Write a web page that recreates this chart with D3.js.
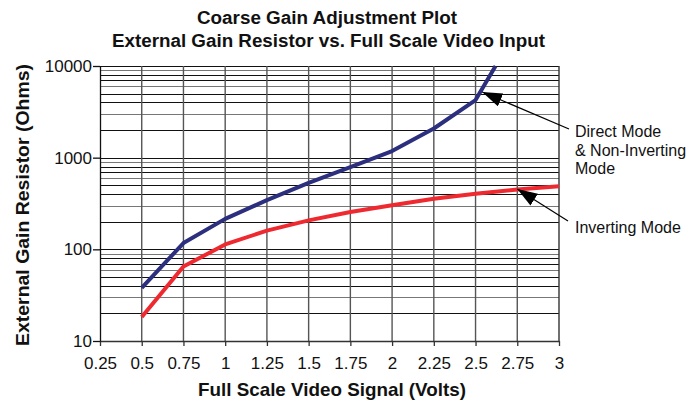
<!DOCTYPE html>
<html><head><meta charset="utf-8">
<script src="https://cdn.jsdelivr.net/npm/d3@7"></script>
<style>
body{margin:0;background:#fff;}
svg{display:block;}
text{font-family:"Liberation Sans",Arial,sans-serif;fill:#111;}
</style></head>
<body>
<svg id="chart" width="697" height="402"></svg>
<script>
// ---- data ----
const xTicks = [0.25,0.5,0.75,1,1.25,1.5,1.75,2,2.25,2.5,2.75,3];
const yTicks = [10,100,1000,10000];
const directX = [0.5,0.75,1,1.25,1.5,1.75,2,2.25,2.5,2.62];
const directY = [38,117,215,344,530,790,1180,2080,4250,10000];
const invertX = [0.5,0.75,1,1.25,1.5,1.75,2,2.25,2.5,2.75,3];
const invertY = [18.3,65,113,160,207,255,303,356,405,450,488];
const titleLines = ["Coarse Gain Adjustment Plot","External Gain Resistor vs. Full Scale Video Input"];
const xLabel = "Full Scale Video Signal (Volts)";
const yLabel = "External Gain Resistor (Ohms)";
const annotations = [
  {lines:["Direct Mode","& Non-Inverting","Mode"], tipX:2.54, tipY:5200},
  {lines:["Inverting Mode"], tipX:2.75, tipY:455}
];

const svg = d3.select("#chart");
const L=100, R=559, T=66, B=341;
const x = d3.scaleLinear().domain([0.25,3]).range([L,R]);
const y = d3.scaleLog().domain([10,10000]).range([B,T]);

// horizontal grid (log minor lines)
const minor=[];
for(let d=10; d<10000; d*=10){ for(let k=1;k<=9;k++){ minor.push(d*k);} }
minor.push(10000);
svg.append("g").selectAll("line").data(minor.filter(v=>v>10)).join("line")
  .attr("x1",L).attr("x2",R)
  .attr("y1",d=>Math.round(y(d))+0.5).attr("y2",d=>Math.round(y(d))+0.5)
  .attr("stroke",(d,i)=> (i%3===1)?"#777":"#111").attr("stroke-width",1.1);

// vertical grid
svg.append("g").selectAll("line").data(xTicks.slice(1)).join("line")
  .attr("x1",d=>x(d)).attr("x2",d=>x(d)).attr("y1",T).attr("y2",B)
  .attr("stroke",d=>d===3?"#333":"#555").attr("stroke-width",1.4);

// axes
const xAxis = d3.axisBottom(x).tickValues(xTicks).tickFormat(d3.format("")).tickSize(5).tickSizeOuter(0);
const gx = svg.append("g").attr("transform",`translate(0,${B})`).call(xAxis);
gx.select(".domain").attr("stroke","#333").attr("stroke-width",1.3);
gx.selectAll(".tick line").attr("stroke","#333").attr("stroke-width",1.3);
gx.selectAll("text").attr("font-size",17).attr("font-family","Liberation Sans, Arial").attr("dy","1.2em").attr("fill","#111");

const yAxis = d3.axisLeft(y).tickValues(yTicks).tickFormat(d3.format("d")).tickSize(7).tickSizeOuter(0);
const gy = svg.append("g").attr("transform",`translate(${L},0)`).call(yAxis);
gy.select(".domain").attr("stroke","#111").attr("stroke-width",1.3);
gy.selectAll(".tick line").attr("stroke","#111").attr("stroke-width",1.3);
gy.selectAll("text").attr("font-size",17).attr("font-family","Liberation Sans Narrow, Arial Narrow, Liberation Sans").attr("x",-8).attr("fill","#111");

// lines
const line = d3.line().x(d=>x(d[0])).y(d=>y(d[1]));
svg.append("path").datum(invertX.map((v,i)=>[v,invertY[i]]))
  .attr("d",line).attr("fill","none").attr("stroke","#ee2a30").attr("stroke-width",4).attr("stroke-linejoin","round");
svg.append("path").datum(directX.map((v,i)=>[v,directY[i]]))
  .attr("d",line).attr("fill","none").attr("stroke","#2b2f7e").attr("stroke-width",4).attr("stroke-linejoin","round");

// annotations
const defs = svg.append("defs");
defs.append("marker").attr("id","ah").attr("viewBox","0 0 20 14").attr("refX",20).attr("refY",7)
  .attr("markerWidth",20).attr("markerHeight",14).attr("markerUnits","userSpaceOnUse").attr("orient","auto")
  .append("path").attr("d","M0,0L20,7L0,14Z").attr("fill","#000");
const annStart = [[569,129],[568,221]];
const annText = [[575,137],[575,233]];
annotations.forEach((a,i)=>{
  svg.append("line").attr("x1",annStart[i][0]).attr("y1",annStart[i][1])
    .attr("x2",x(a.tipX)).attr("y2",y(a.tipY)).attr("stroke","#000").attr("stroke-width",1.2)
    .attr("marker-end","url(#ah)");
  const t = svg.append("text").attr("x",annText[i][0]).attr("y",annText[i][1]).attr("font-size",16);
  a.lines.forEach((s,j)=>t.append("tspan").attr("x",annText[i][0]).attr("dy",j?18.5:0).text(s));
});

// titles
const fitText = (sel,w)=>{ sel.attr("textLength",w).attr("lengthAdjust","spacingAndGlyphs"); };
svg.append("text").attr("x",327).attr("y",24).attr("text-anchor","middle").attr("font-weight","bold").attr("font-size",18)
  .text(titleLines[0]).call(fitText,260);
svg.append("text").attr("x",328.5).attr("y",47).attr("text-anchor","middle").attr("font-weight","bold").attr("font-size",18)
  .text(titleLines[1]).call(fitText,433);
svg.append("text").attr("x",332).attr("y",396).attr("text-anchor","middle").attr("font-weight","bold").attr("font-size",18.5)
  .text(xLabel).call(fitText,268);
svg.append("text").attr("transform","translate(29,205) rotate(-90)").attr("text-anchor","middle").attr("font-weight","bold").attr("font-size",18.5)
  .text(yLabel).call(fitText,282);
</script>
</body></html>
